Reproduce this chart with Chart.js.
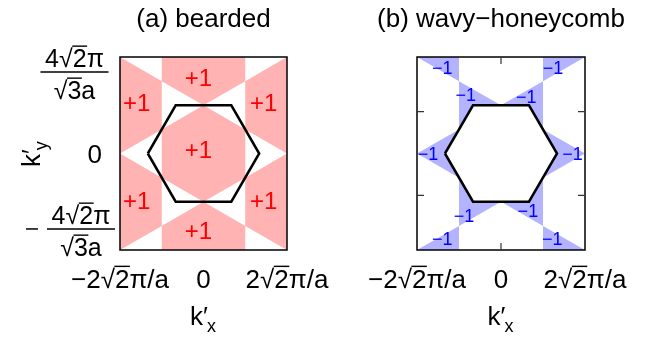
<!DOCTYPE html>
<html>
<head>
<meta charset="utf-8">
<script src="https://cdn.jsdelivr.net/npm/chart.js@4.4.1/dist/chart.umd.min.js"></script>
<style>
html, body { margin: 0; padding: 0; background: #fff; }
#wrap { position: relative; width: 658px; height: 340px; }
canvas { position: absolute; top: 0; }
#chartA { left: 0; }
#chartB { left: 329px; }
</style>
</head>
<body>
<div id="wrap">
  <canvas id="chartA" width="329" height="340"></canvas>
  <canvas id="chartB" width="329" height="340"></canvas>
</div>
<script>
// k'x in units of 2√2π/a, k'y in units of 4√2π/(√3a)
const hexagon = [[-0.667, 0], [-0.333, 0.5], [0.333, 0.5], [0.667, 0], [0.333, -0.5], [-0.333, -0.5]];

// (a) bearded: +1 regions
const beardedRegions = [
  [[-0.5, 1], [0.5, 1], [0.5, 0.75], [0, 0.5], [-0.5, 0.75]],
  [[-0.5, 0.25], [0, 0.5], [0.5, 0.25], [0.5, -0.25], [0, -0.5], [-0.5, -0.25]],
  [[-0.5, -1], [0.5, -1], [0.5, -0.75], [0, -0.5], [-0.5, -0.75]],
  [[-1, 1], [-0.5, 0.75], [-0.5, 0.25], [-1, 0]],
  [[-1, 0], [-0.5, -0.25], [-0.5, -0.75], [-1, -1]],
  [[1, 1], [0.5, 0.75], [0.5, 0.25], [1, 0]],
  [[1, 0], [0.5, -0.25], [0.5, -0.75], [1, -1]]
];
const beardedLabelX = [-0.06, -0.8, 0.72, -0.06, -0.8, 0.72, -0.06];
const beardedLabelY = [0.79, 0.53, 0.53, 0.04, -0.49, -0.49, -0.8];

// (b) wavy-honeycomb: -1 regions
const wavyRegions = [
  [[-1, 1], [-0.5, 1], [-0.5, 0.75]],
  [[1, 1], [0.5, 1], [0.5, 0.75]],
  [[-1, -1], [-0.5, -1], [-0.5, -0.75]],
  [[1, -1], [0.5, -1], [0.5, -0.75]],
  [[-1, 0], [-0.5, 0.25], [-0.667, 0], [-0.5, -0.25]],
  [[1, 0], [0.5, 0.25], [0.667, 0], [0.5, -0.25]],
  [[-0.5, 0.75], [0, 0.5], [-0.333, 0.5], [-0.5, 0.25]],
  [[0.5, 0.75], [0, 0.5], [0.333, 0.5], [0.5, 0.25]],
  [[-0.5, -0.75], [0, -0.5], [-0.333, -0.5], [-0.5, -0.25]],
  [[0.5, -0.75], [0, -0.5], [0.333, -0.5], [0.5, -0.25]]
];
const wavyLabelX = [-0.70, 0.62, -0.42, 0.30, -0.87, 0.85, -0.44, 0.32, -0.70, 0.61];
const wavyLabelY = [0.89, 0.89, 0.61, 0.59, 0.0, 0.0, -0.64, -0.59, -0.88, -0.88];

const xTicks = [-1, 0, 1];
const xTickLabels = [
  [['\u22122\u221A', 0], ['2', 1], ['\u03C0/a', 0]],
  [['0', 0]],
  [['2\u221A', 0], ['2', 1], ['\u03C0/a', 0]]
];
const yLabelPos = [0.845, 0, -0.782];
const wavyYTicks = [0.433, -0.433];

const FONT = '"Liberation Sans", Arial, Helvetica, sans-serif';

function font(size) {
  return size + 'px ' + FONT;
}

// text made of pieces, pieces flagged 1 get a radical bar on top
function drawMath(ctx, segs, x, y, size, align) {
  ctx.font = font(size);
  ctx.textAlign = 'left';
  ctx.textBaseline = 'alphabetic';
  const widths = segs.map(s => ctx.measureText(s[0]).width);
  const total = widths.reduce((a, b) => a + b, 0);
  let cx = x;
  if (align === 'center') cx = x - total / 2;
  if (align === 'right') cx = x - total;
  segs.forEach((s, i) => {
    ctx.fillText(s[0], cx, y);
    if (s[1]) {
      ctx.fillRect(cx - 0.5, y - size * 0.86, widths[i] + 1, Math.max(1.2, size * 0.055));
    }
    cx += widths[i];
  });
  return total;
}

function drawKx(ctx, cx, base) {
  ctx.font = font(26);
  const w1 = ctx.measureText('k\u2032').width;
  ctx.font = font(18);
  const w2 = ctx.measureText('x').width;
  const start = cx - (w1 + w2) / 2;
  ctx.textAlign = 'left';
  ctx.textBaseline = 'alphabetic';
  ctx.font = font(26);
  ctx.fillText('k\u2032', start, base);
  ctx.font = font(18);
  ctx.fillText('x', start + w1 - 1, base + 7);
}

function polyData(p) {
  return p.concat([p[0]]).map(q => ({x: q[0], y: q[1]}));
}

function decoPlugin(opts) {
  return {
    id: 'deco',
    afterDraw(chart) {
      const ctx = chart.ctx;
      const area = chart.chartArea;
      const xs = chart.scales.x;
      const ys = chart.scales.y;
      ctx.save();
      ctx.fillStyle = '#000';
      ctx.strokeStyle = '#000';

      // title
      ctx.font = font(26);
      ctx.textAlign = 'center';
      ctx.textBaseline = 'alphabetic';
      ctx.fillText(opts.title, (area.left + area.right) / 2, 27);

      // box
      ctx.lineWidth = 1.5;
      ctx.strokeRect(area.left, area.top, area.right - area.left, area.bottom - area.top);

      // ticks
      if (opts.ticks) {
        ctx.lineWidth = 1.2;
        ctx.strokeStyle = '#333';
        ctx.beginPath();
        const x0 = xs.getPixelForValue(0);
        ctx.moveTo(x0, area.top); ctx.lineTo(x0, area.top + 7);
        ctx.moveTo(x0, area.bottom); ctx.lineTo(x0, area.bottom - 7);
        wavyYTicks.forEach(v => {
          const yp = ys.getPixelForValue(v);
          ctx.moveTo(area.left, yp); ctx.lineTo(area.left + 7, yp);
          ctx.moveTo(area.right, yp); ctx.lineTo(area.right - 7, yp);
        });
        ctx.stroke();
      }

      // x tick labels and title
      ctx.fillStyle = '#000';
      xTicks.forEach((v, i) => {
        drawMath(ctx, xTickLabels[i], xs.getPixelForValue(v), 288, 26, 'center');
      });
      drawKx(ctx, (area.left + area.right) / 2, 325);

      // y labels (panel a only)
      if (opts.yLabels) {
        ctx.lineWidth = 1.5;
        ctx.strokeStyle = '#000';
        const fr = [[74.5, ys.getPixelForValue(yLabelPos[0])], [81, ys.getPixelForValue(yLabelPos[2])]];
        fr.forEach((f, i) => {
          const bx = f[0], by = f[1];
          ctx.beginPath();
          ctx.moveTo(bx - 34, by); ctx.lineTo(bx + 34, by);
          ctx.stroke();
          drawMath(ctx, [['4\u221A', 0], ['2', 1], ['\u03C0', 0]], bx, by - 5, 25, 'center');
          drawMath(ctx, [['\u221A', 0], ['3', 1], ['a', 0]], bx, by + 27, 25, 'center');
          if (i === 1) {
            ctx.beginPath();
            ctx.moveTo(26, by); ctx.lineTo(38, by);
            ctx.stroke();
          }
        });
        ctx.font = font(26);
        ctx.textAlign = 'right';
        ctx.fillText('0', 102, ys.getPixelForValue(yLabelPos[1]) + 9.5);

        // k'y rotated
        ctx.save();
        ctx.translate(40, 167);
        ctx.rotate(-Math.PI / 2);
        ctx.textAlign = 'left';
        ctx.font = font(26);
        ctx.fillText('k\u2032', 0, 0);
        const w = ctx.measureText('k\u2032').width;
        ctx.font = font(18);
        ctx.fillText('y', w - 1, 7);
        ctx.restore();
      }

      // region labels
      ctx.fillStyle = opts.labelColour;
      ctx.font = font(opts.labelSize);
      ctx.textAlign = 'center';
      ctx.textBaseline = 'alphabetic';
      opts.labelX.forEach((v, i) => {
        const px = xs.getPixelForValue(v);
        const py = ys.getPixelForValue(opts.labelY[i]);
        ctx.fillText(opts.labelText, px, py + opts.labelSize * 0.36);
      });
      ctx.restore();
    }
  };
}

function makeChart(canvas, regions, colour, pad, deco) {
  const datasets = [{
    data: polyData(hexagon),
    borderColor: '#000',
    borderWidth: 2.5,
    borderJoinStyle: 'miter',
    fill: false,
    pointRadius: 0
  }];
  regions.forEach(r => {
    datasets.push({
      data: polyData(r),
      backgroundColor: colour,
      borderColor: 'rgba(0,0,0,0)',
      borderWidth: 0,
      fill: 'shape',
      pointRadius: 0
    });
  });
  return new Chart(canvas, {
    type: 'line',
    data: {datasets: datasets},
    options: {
      responsive: false,
      animation: false,
      devicePixelRatio: 1,
      events: [],
      layout: {padding: pad},
      elements: {line: {tension: 0}, point: {radius: 0}},
      plugins: {legend: {display: false}, tooltip: {enabled: false}, title: {display: false}},
      scales: {
        x: {type: 'linear', min: -1, max: 1, display: false},
        y: {type: 'linear', min: -1, max: 1, display: false}
      }
    },
    plugins: [deco]
  });
}

makeChart(document.getElementById('chartA'), beardedRegions, '#ffb3b3',
  {left: 120, right: 42, top: 57, bottom: 90},
  decoPlugin({
    title: '(a) bearded', ticks: false, yLabels: true,
    labelX: beardedLabelX, labelY: beardedLabelY, labelText: '+1',
    labelColour: '#ff0000', labelSize: 24
  }));

makeChart(document.getElementById('chartB'), wavyRegions, '#b3b3ff',
  {left: 88, right: 73, top: 57, bottom: 90},
  decoPlugin({
    title: '(b) wavy\u2212honeycomb', ticks: true, yLabels: false,
    labelX: wavyLabelX, labelY: wavyLabelY, labelText: '\u22121',
    labelColour: '#0000ff', labelSize: 18
  }));
</script>
</body>
</html>
